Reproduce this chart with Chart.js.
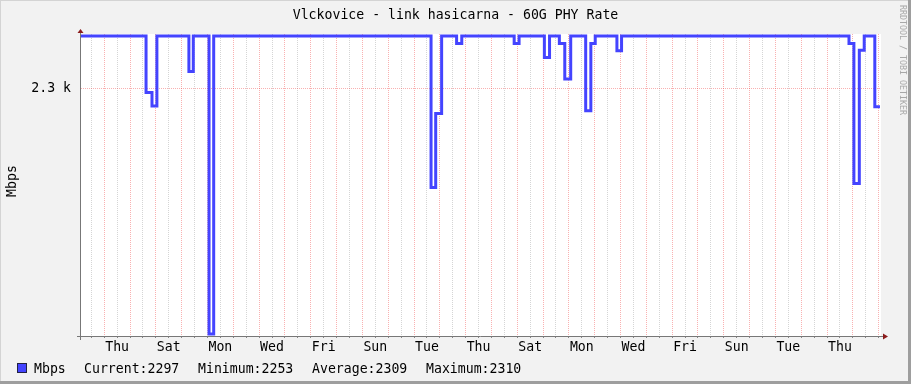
<!DOCTYPE html>
<html>
<head>
<meta charset="utf-8">
<title>Vlckovice - link hasicarna - 60G PHY Rate</title>
<script src="https://cdn.jsdelivr.net/npm/chart.js@4"></script>
<style>
html, body { margin: 0; padding: 0; background: #f2f2f2; }
canvas { display: block; }
</style>
</head>
<body>
<canvas id="grafico" width="911" height="384"></canvas>
<script>
// step start (days after the Wednesday 00:00 before the graph start) and rate from there on
const stepDays = [0.10, 2.62, 2.85, 3.04, 4.28, 4.45, 5.06, 5.24, 13.66, 13.84, 14.07, 14.65, 14.85,
    16.88, 17.07, 18.05, 18.25, 18.63, 18.84, 19.07, 19.65, 19.85, 20.02, 20.86, 21.04,
    29.85, 30.04, 30.25, 30.44, 30.85, 31.05];
const rateMbps = [2310, 2299.2, 2296.6, 2310, 2303.2, 2310, 2253, 2310, 2281, 2295.2, 2310, 2308.6, 2310,
    2308.6, 2310, 2305.9, 2310, 2308.6, 2301.8, 2310, 2295.7, 2308.6, 2310, 2307.2, 2310,
    2308.6, 2281.8, 2307.3, 2310, 2296.5, 2296.5];
const dayNames = ['Wed', 'Thu', 'Fri', 'Sat', 'Sun', 'Mon', 'Tue'];
const yTicks = [2300];
const legendStats = ['Current:2297', 'Minimum:2253', 'Average:2309', 'Maximum:2310'];
const graphTitle = 'Vlckovice - link hasicarna - 60G PHY Rate';
const unitLabel = 'Mbps';

const FONT = '"DejaVu Sans Mono", monospace';
const LINE_BLUE = '#4444ff';

const rrdLook = {
    id: 'rrdLook',
    beforeDraw(chart) {
        const c = chart.ctx, a = chart.chartArea;
        c.save();
        c.fillStyle = '#f2f2f2';
        c.fillRect(0, 0, 911, 384);
        c.fillStyle = '#d4d4d4';
        c.fillRect(0, 0, 911, 1);
        c.fillRect(0, 0, 1, 384);
        c.fillStyle = '#9e9e9e';
        c.fillRect(908, 0, 3, 384);
        c.fillRect(0, 381, 911, 3);
        c.fillStyle = '#ffffff';
        c.fillRect(a.left, a.top, a.right - a.left, a.bottom - a.top);
        c.restore();
    },
    afterDatasetsDraw(chart) {
        const c = chart.ctx, a = chart.chartArea;
        c.save();
        c.strokeStyle = '#777777';
        c.lineWidth = 1;
        c.beginPath();
        c.moveTo(a.left - 0.5, a.bottom + 4);
        c.lineTo(a.left - 0.5, a.top - 3);
        c.moveTo(a.left - 4, a.bottom + 0.5);
        c.lineTo(a.right + 3, a.bottom + 0.5);
        c.stroke();
        // arrows
        c.fillStyle = '#8b1c1c';
        c.beginPath();
        c.moveTo(a.left - 0.5, a.top - 5);
        c.lineTo(a.left - 3.5, a.top - 1);
        c.lineTo(a.left + 2.5, a.top - 1);
        c.closePath();
        c.fill();
        c.beginPath();
        c.moveTo(a.right + 7, a.bottom + 0.5);
        c.lineTo(a.right + 2, a.bottom - 2.5);
        c.lineTo(a.right + 2, a.bottom + 3.5);
        c.closePath();
        c.fill();
        c.restore();
    },
    afterDraw(chart) {
        const c = chart.ctx;
        c.save();
        c.fillStyle = '#000000';
        c.font = '13.2px ' + FONT;
        c.textBaseline = 'alphabetic';
        c.textAlign = 'center';
        c.fillText(graphTitle, 455.5, 19);

        // vertical unit label
        c.save();
        c.translate(16, 181);
        c.rotate(-Math.PI / 2);
        c.fillText(unitLabel, 0, 0);
        c.restore();

        // legend
        c.textAlign = 'left';
        c.fillStyle = LINE_BLUE;
        c.fillRect(17, 363, 10, 10);
        c.strokeStyle = '#222244';
        c.lineWidth = 1;
        c.strokeRect(17.5, 363.5, 9, 9);
        c.fillStyle = '#000000';
        c.fillText(unitLabel, 34, 373);
        legendStats.forEach((s, i) => c.fillText(s, 84 + i * 114, 373));

        // watermark
        c.fillStyle = '#a8a8a8';
        c.font = '8.3px ' + FONT;
        c.translate(899, 5);
        c.rotate(Math.PI / 2);
        c.textBaseline = 'middle';
        c.fillText('RRDTOOL / TOBI OETIKER', 0, -3.5);
        c.restore();
    }
};

const ctx = document.getElementById('grafico').getContext('2d');
new Chart(ctx, {
    type: 'line',
    data: {
        datasets: [{
            label: unitLabel,
            data: stepDays.map((d, i) => ({ x: d, y: rateMbps[i] })),
            borderColor: LINE_BLUE,
            borderWidth: 3,
            stepped: true,
            pointRadius: 0,
            fill: false
        }]
    },
    options: {
        responsive: false,
        animation: false,
        events: [],
        layout: { padding: { top: 34, right: 30, left: 0, bottom: 0 } },
        plugins: { legend: { display: false }, title: { display: false }, tooltip: { enabled: false } },
        scales: {
            x: {
                type: 'linear',
                min: 0.1,
                max: 31.09,
                afterBuildTicks: scale => {
                    const t = [];
                    for (let v = 0.5; v <= 31; v += 0.5) t.push({ value: v });
                    scale.ticks = t;
                },
                afterFit: scale => { scale.height = 48; },
                ticks: {
                    autoSkip: false,
                    maxRotation: 0,
                    padding: 2,
                    color: '#000000',
                    font: { family: FONT, size: 13.2 },
                    callback: v => {
                        const d = Math.floor(v);
                        return (v - d === 0.5 && d % 2 === 1) ? dayNames[d % 7] : '';
                    }
                },
                grid: {
                    color: c => Number.isInteger(c.tick.value) ? 'rgba(240,60,60,0.4)' : 'rgba(150,150,150,0.4)',
                    lineWidth: 1,
                    tickLength: 2,
                    tickColor: '#888888'
                },
                border: { display: false, dash: [1, 1] }
            },
            y: {
                min: 2252.6,
                max: 2310.4,
                afterBuildTicks: scale => { scale.ticks = yTicks.map(v => ({ value: v })); },
                afterFit: scale => { scale.width = 81; },
                ticks: {
                    padding: 10,
                    color: '#000000',
                    font: { family: FONT, size: 13.2 },
                    callback: v => (v / 1000).toFixed(1) + ' k'
                },
                grid: {
                    color: 'rgba(240,60,60,0.4)',
                    lineWidth: 1,
                    drawTicks: false
                },
                border: { display: false, dash: [1, 1] }
            }
        }
    },
    plugins: [rrdLook]
});
</script>
</body>
</html>
